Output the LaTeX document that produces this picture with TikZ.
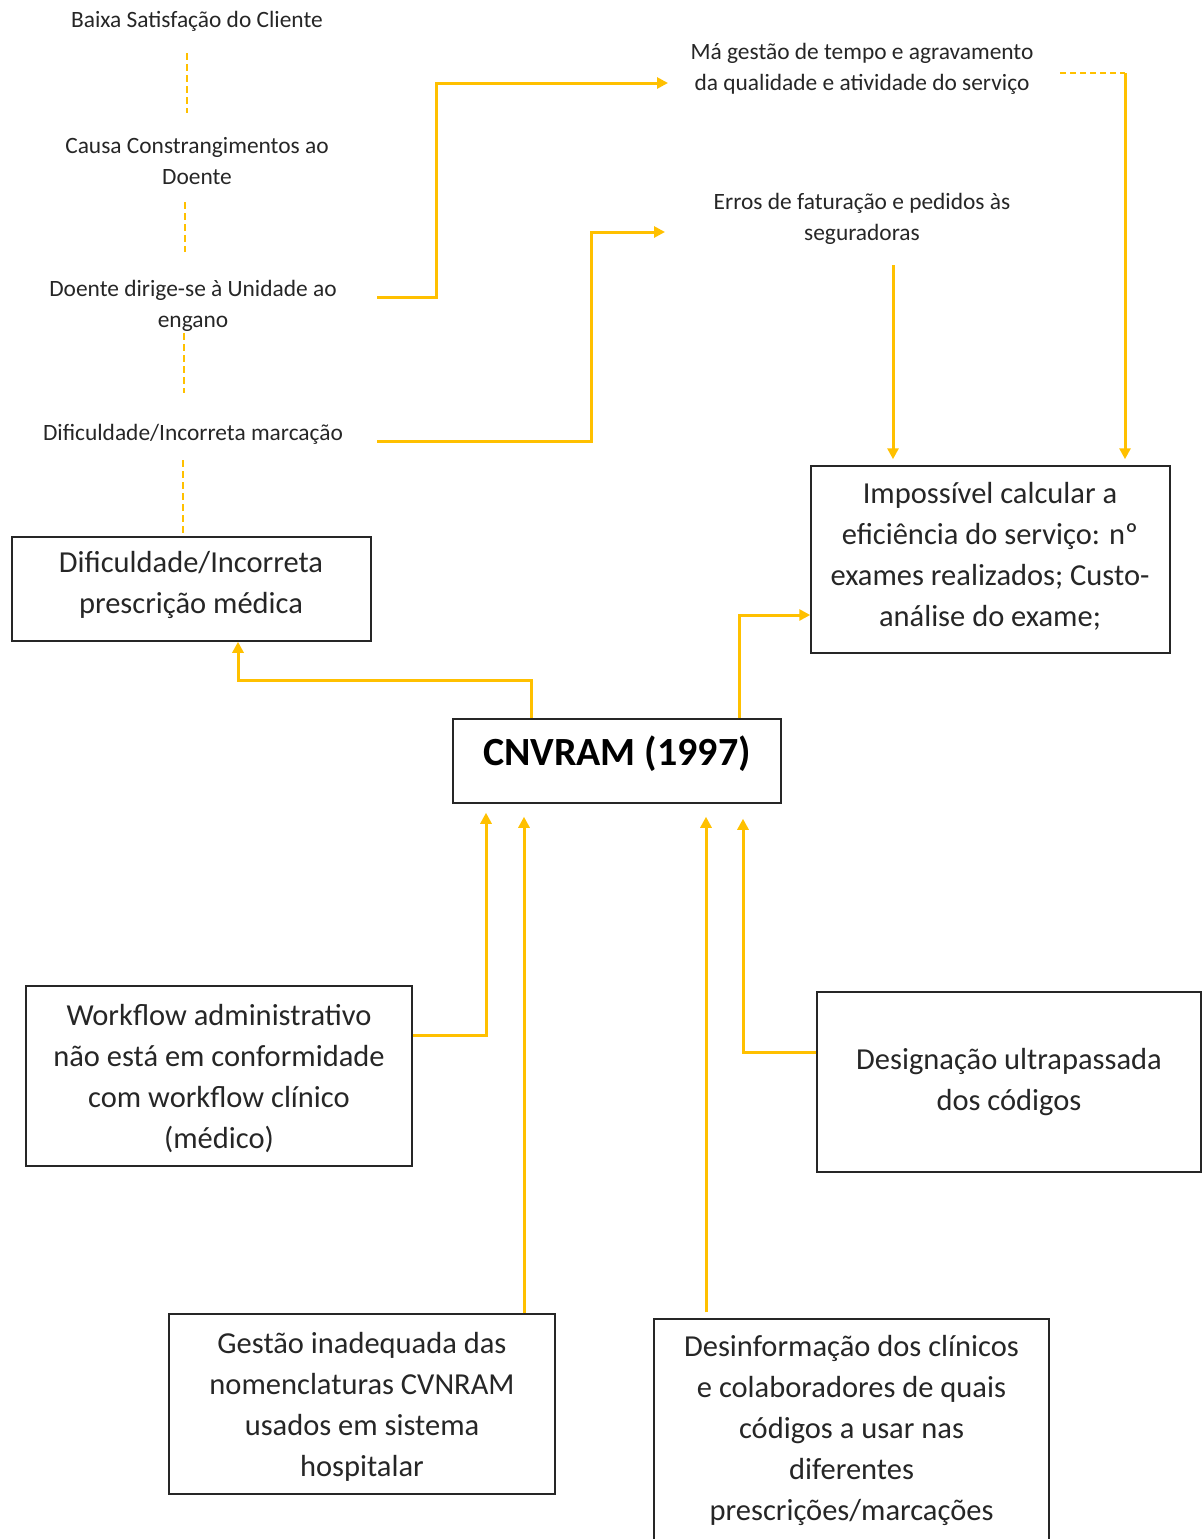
\documentclass[tikz,border=0pt]{standalone}
\usepackage{fontspec}
\setmainfont{Carlito}
\usetikzlibrary{arrows.meta,calc}
\definecolor{gold}{HTML}{FFC000}
\definecolor{ink}{HTML}{262626}
\begin{document}
\begin{tikzpicture}[x=1pt,y=-1pt,
  small/.style={font=\fontsize{23.4}{31}\selectfont, align=center, inner sep=0pt, text=ink},
  big/.style={font=\fontsize{30.5}{41}\selectfont, align=center, inner sep=0pt, text=ink, yshift=-2.5pt},
  boxed/.style={draw=ink, line width=1.5pt, inner sep=0pt},
  conn/.style={draw=gold, line width=3pt},
  arr/.style={conn, -{Triangle[length=11pt,width=11pt]}},
  dashy/.style={draw=gold, line width=2pt, dash pattern=on 7pt off 4pt}
]
\useasboundingbox (0,0) rectangle (1202,1539);

% small texts
\node[small] (t1) at (197,21) {Baixa Satisfação do Cliente};
\node[small] (t2) at (197,161) {Causa Constrangimentos ao\\Doente};
\node[small] (t3) at (193,306) {Doente dirige-se à Unidade ao\\engano};
\node[small] (t4) at (193,434) {Dificuldade/Incorreta marcação};
\node[small] (t5) at (862,69) {Má gestão de tempo e agravamento\\da qualidade e atividade do serviço};
\node[small] (t6) at (862,219) {Erros de faturação e pedidos às\\seguradoras};

% boxes
\node[boxed, minimum width=359, minimum height=104] (presc) at (191.5,589) {};
\node[big] (prescT) at (191,582) {Dificuldade/Incorreta\\prescrição médica};

\node[boxed, minimum width=359, minimum height=187] (imp) at (990.5,559.5) {};
\node[big] (impT) at (990,554) {Impossível calcular a\\eficiência do serviço: nº\\exames realizados; Custo-\\análise do exame;};

\node[boxed, minimum width=328, minimum height=84] (cn) at (617,761) {};
\node[font=\fontsize{40}{48}\selectfont\bfseries, inner sep=0pt, text=black, yshift=-2pt] (cnT) at (617,752) {CNVRAM (1997)};

\node[boxed, minimum width=386, minimum height=180] (wf) at (219,1076) {};
\node[big] (wfT) at (219,1076) {Workflow administrativo\\não está em conformidade\\com workflow clínico\\(médico)};

\node[boxed, minimum width=384, minimum height=180] (ds) at (1009,1082) {};
\node[big] (dsT) at (1009,1080) {Designação ultrapassada\\dos códigos};

\node[boxed, minimum width=386, minimum height=180] (ge) at (362,1404) {};
\node[big] (geT) at (362,1404) {Gestão inadequada das\\nomenclaturas CVNRAM\\usados em sistema\\hospitalar};

\node[boxed, minimum width=395, minimum height=240] (de) at (851.5,1439) {};
\node[big] (deT) at (851.5,1428) {Desinformação dos clínicos\\e colaboradores de quais\\códigos a usar nas\\diferentes\\prescrições/marcações};

% dashed links between small texts
\draw[dashy] ($(t1.center)+(-10,32)$) -- ($(t2.center)+(-10,-48)$);
\draw[dashy] ($(t2.center)+(-12,41)$) -- ($(t3.center)+(-8,-54)$);
\draw[dashy] ($(t3.center)+(-9,27)$) -- ($(t4.center)+(-9,-41)$);
\draw[dashy] ($(t4.center)+(-10,26)$) -- ($(presc.north)+(-8.5,0)$);

% connectors to the top right texts
\coordinate (a1s) at ($(t3.center)+(184,-9)$);
\coordinate (a1e) at ($(t5.center)+(-194,14)$);
\draw[arr] (a1s) -| ($(a1e)+(-232,0)$) -- (a1e);

\coordinate (a2s) at ($(t4.center)+(184,7)$);
\coordinate (a2e) at ($(t6.center)+(-197,13)$);
\draw[arr] (a2s) -| ($(a2e)+(-74,0)$) -- (a2e);

% to Impossivel box
\draw[arr] ($(t6.center)+(31,46)$) -- ($(imp.north)+(-97.5,-6)$);
\draw[dashy, dash pattern=on 6pt off 4pt] ($(t5.center)+(198,4)$) -- ($(t5.center)+(263,4)$);
\draw[arr] ($(t5.center)+(263,4)$) -- ($(imp.north)+(134.5,-6)$);

% from CNVRAM
\draw[arr] ($(cn.north)+(-86,0)$) -- ++(0,-38) -| (presc.south -| 238,0);
\draw[arr] ($(cn.north)+(122,0)$) |- ($(imp.west)+(0,55.5)$);

% into CNVRAM
\draw[arr] ($(wf.east)+(0,-41)$) -| ($(cn.south)+(-131,9)$);
\draw[arr] ($(ge.north)+(162,0)$) -- ($(cn.south)+(-93,13)$);
\draw[arr] ($(de.north)+(-145.5,-6)$) -- ($(cn.south)+(89,13)$);
\draw[arr] ($(ds.west)+(0,-30)$) -| ($(cn.south)+(126,15)$);
\end{tikzpicture}
\end{document}
